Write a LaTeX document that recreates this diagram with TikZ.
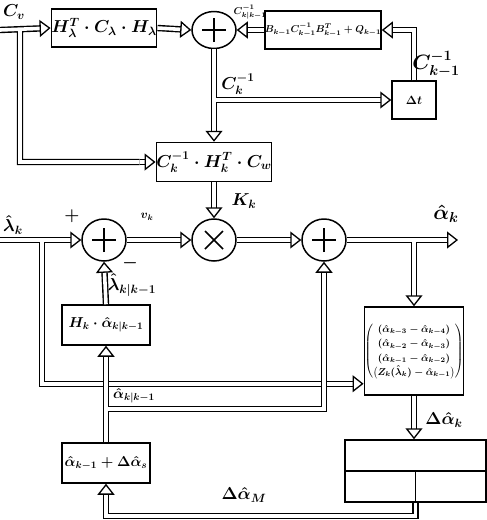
\documentclass[tikz,border=0pt]{standalone}
\usepackage{amsmath}
\usetikzlibrary{arrows.meta,shapes.geometric}

\begin{document}
\begin{tikzpicture}[
    x=1pt, y=-1pt,
    >={Triangle[open, length=11pt, width=17pt, line width=1.3pt]},
    wire/.style={draw, line width=1.4pt, double=white, double distance=3.6pt},
    block/.style={rectangle, draw, line width=1.5pt, inner sep=0pt,
                  align=center, font=\LARGE\boldmath},
    junc/.style={ellipse, draw, line width=1.5pt, minimum width=44pt,
                 minimum height=42pt, inner sep=0pt},
    sumnode/.style={junc, path picture={
        \draw[line width=1.6pt]
          ([xshift=-12pt]path picture bounding box.center) -- ([xshift=12pt]path picture bounding box.center)
          ([yshift=-12pt]path picture bounding box.center) -- ([yshift=12pt]path picture bounding box.center);}},
    prodnode/.style={junc, path picture={
        \draw[line width=1.6pt]
          ([shift={(-9pt,-9pt)}]path picture bounding box.center) -- ([shift={(9pt,9pt)}]path picture bounding box.center)
          ([shift={(-9pt,9pt)}]path picture bounding box.center) -- ([shift={(9pt,-9pt)}]path picture bounding box.center);}},
    lbl/.style={inner sep=0pt, font=\LARGE\boldmath}
]
\useasboundingbox (0,0) rectangle (487,520);

\node[block, minimum width=88pt, minimum height=38pt] (h1) at (104,28) {$H_\lambda^T\cdot C_\lambda\cdot H_\lambda$};
\node[sumnode, minimum height=37pt] (s1) at (214,30) {};
\node[block, minimum width=114pt, minimum height=38pt, font=\normalsize\boldmath] (h2) at (323,30)
      {$B_{k-1}C^{-1}_{k-1}B^T_{k-1}+Q_{k-1}$};
\node[block, minimum width=44pt, minimum height=38pt, font=\large\boldmath] (dt) at (414,100) {$\Delta t$};
\node[block, minimum width=88pt, minimum height=39pt] (h3) at (214,162) {$C_k^{-1}\cdot H_k^T\cdot C_w$};

\node[sumnode] (s2) at (104,240) {};
\node[prodnode] (pr) at (214,240) {};
\node[sumnode] (s3) at (324,240) {};

\node[block, minimum width=98pt, minimum height=88pt, font=\normalsize\boldmath] (mx) at (414,351)
      {\renewcommand{\arraystretch}{1.2}%
       $\begin{pmatrix}(\hat{\alpha}_{k-3}-\hat{\alpha}_{k-4})\\(\hat{\alpha}_{k-2}-\hat{\alpha}_{k-3})\\
        (\hat{\alpha}_{k-1}-\hat{\alpha}_{k-2})\\\big(Z_k(\hat{\lambda}_k)-\hat{\alpha}_{k-1}\big)\end{pmatrix}$};
\node[block, minimum width=141pt, minimum height=62pt] (bt) at (415.5,471) {};
\node[block, minimum width=88pt, minimum height=40pt, font=\Large\boldmath] (hk) at (106,325) {$H_k\cdot\hat{\alpha}_{k|k-1}$};
\node[block, minimum width=88pt, minimum height=40pt, font=\Large\boldmath] (ak) at (106,463) {$\hat{\alpha}_{k-1}+\Delta\hat{\alpha}_s$};

\draw[line width=1.5pt] (bt.west) -- (bt.east) (bt.center) -- (bt.south);

\coordinate (cvin) at (0,30);
\coordinate (cj) at (20,30);
\coordinate (lin) at (0,240);
\coordinate (lj) at (42,240);
\coordinate (mxin) at ([yshift=12pt]mx.south west);
\coordinate (aout) at (458,240);
\coordinate (aj) at (106,409);

\draw[wire,->] (h1.east) -- (s1.west);
\draw[wire,->] (h2.west) -- (s1.east);
\draw[wire,->] (dt.north) |- (h2.east);
\draw[wire,->] ([xshift=-16pt]h3.west) -| (cj) (cvin) -- (h1.west);
\draw[wire,->] ([xshift=-16pt]h3.west) -- (h3.west);
\draw[wire,->] ([xshift=-16pt]dt.west) -- (s1.south |- dt.west) (s1.south) -- (h3.north);
\draw[wire,->] ([xshift=-16pt]dt.west) -- (dt.west);
\draw[wire,->] (h3.south) -- (pr.north);

\draw[wire,->] ([xshift=-16pt]mxin) -| (lj) (lin) -- (s2.west);
\draw[wire,->] ([xshift=-16pt]mxin) -- (mxin);
\draw[wire,->] (s2.east) -- (pr.west);
\draw[wire,->] (pr.east) -- (s3.west);
\draw[wire,->] ([yshift=16pt]mx.north) -- (mx.north |- s3.east) (s3.east) -- (aout);
\draw[wire,->] ([yshift=16pt]mx.north) -- (mx.north);
\draw[wire,->] (mx.south) -- (mx.south |- bt.north);
\draw[wire,->] (bt.south) -- ++(0,13) -| (ak.south);
\draw[wire,->] ([yshift=-16pt]s3.south) |- (aj) (ak.north) -- (hk.south);
\draw[wire,->] ([yshift=-16pt]s3.south) -- (s3.south);
\draw[wire,->] (hk.north) -- (s2.south);

\node[lbl] (lcv) at (14,12) {$C_v$};
\node[lbl, font=\normalsize\boldmath] (lcp) at (250,12) {$C^{-1}_{k|k-1}$};
\node[lbl, font=\huge\boldmath] (lcm) at (436,64) {$C^{-1}_{k-1}$};
\node[lbl] (lck) at (238,84) {$C_k^{-1}$};
\node[lbl] (lkk) at (244,201) {$K_k$};
\node[lbl] (llam) at (13,225) {$\hat{\lambda}_k$};
\node[lbl] (lpl) at (72,216) {$+$};
\node[lbl] (lmi) at (130,263) {$-$};
\node[lbl, font=\large\boldmath] (lv) at (147,217) {$v_k$};
\node[lbl, font=\huge\boldmath] (lout) at (446,214) {$\hat{\alpha}_k$};
\node[lbl] (llp) at (132,285) {$\hat{\lambda}_{k|k-1}$};
\node[lbl, font=\Large\boldmath] (lap) at (134,396) {$\hat{\alpha}_{k|k-1}$};
\node[lbl] (lda) at (444,420) {$\Delta\hat{\alpha}_k$};
\node[lbl] (ldm) at (244,495) {$\Delta\hat{\alpha}_M$};
\end{tikzpicture}
\end{document}
